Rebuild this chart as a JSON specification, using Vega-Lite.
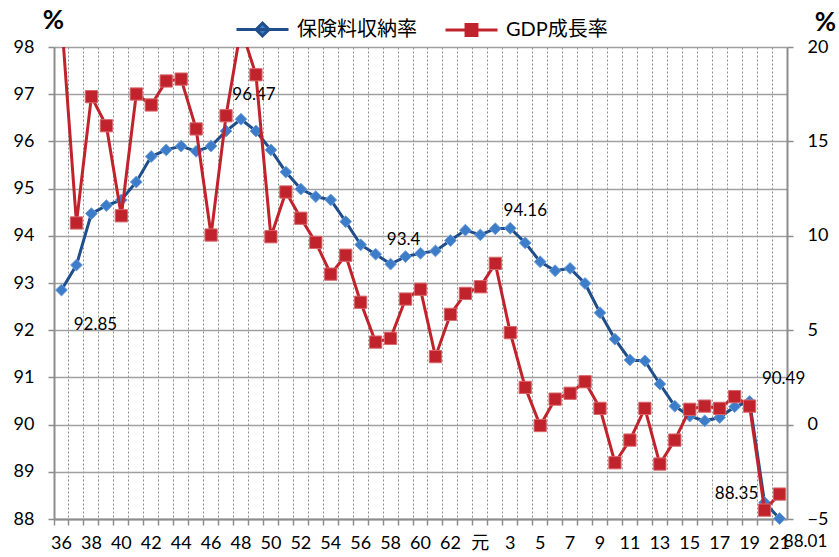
{
  "$schema": "https://vega.github.io/schema/vega-lite/v6.json",
  "width": 733,
  "height": 472,
  "autosize": "none",
  "padding": {"left": 54, "top": 47, "right": 52, "bottom": 38},
  "config": {
    "font": "Lato, 'Noto Sans CJK JP', sans-serif",
    "view": {"stroke": null},
    "axis": {"labelFont": "Lato, 'Noto Sans CJK JP', sans-serif", "labelFontSize": 18, "labelColor": "#000", "titleColor": "#000", "domainColor": "#8c8c8c", "domainWidth": 2, "tickColor": "#8c8c8c", "tickWidth": 1.5, "tickSize": 6}
  },
  "data": {"values": [
    {"year": "36", "rate": 92.85, "gdp": 21.5},
    {"year": "37", "rate": 93.38, "gdp": 10.68},
    {"year": "38", "rate": 94.47, "gdp": 17.37},
    {"year": "39", "rate": 94.64, "gdp": 15.83},
    {"year": "40", "rate": 94.76, "gdp": 11.06},
    {"year": "41", "rate": 95.14, "gdp": 17.51},
    {"year": "42", "rate": 95.68, "gdp": 16.93},
    {"year": "43", "rate": 95.82, "gdp": 18.2},
    {"year": "44", "rate": 95.9, "gdp": 18.3},
    {"year": "45", "rate": 95.79, "gdp": 15.66},
    {"year": "46", "rate": 95.9, "gdp": 10.04},
    {"year": "47", "rate": 96.22, "gdp": 16.36},
    {"year": "48", "rate": 96.47, "gdp": 21.0},
    {"year": "49", "rate": 96.22, "gdp": 18.53},
    {"year": "50", "rate": 95.82, "gdp": 9.95},
    {"year": "51", "rate": 95.35, "gdp": 12.32},
    {"year": "52", "rate": 94.99, "gdp": 10.93},
    {"year": "53", "rate": 94.83, "gdp": 9.65},
    {"year": "54", "rate": 94.76, "gdp": 7.97},
    {"year": "55", "rate": 94.3, "gdp": 8.97},
    {"year": "56", "rate": 93.81, "gdp": 6.48},
    {"year": "57", "rate": 93.61, "gdp": 4.37},
    {"year": "58", "rate": 93.4, "gdp": 4.57},
    {"year": "59", "rate": 93.56, "gdp": 6.65},
    {"year": "60", "rate": 93.63, "gdp": 7.17},
    {"year": "61", "rate": 93.68, "gdp": 3.6},
    {"year": "62", "rate": 93.9, "gdp": 5.84},
    {"year": "63", "rate": 94.12, "gdp": 6.95},
    {"year": "元", "rate": 94.02, "gdp": 7.3},
    {"year": "2", "rate": 94.15, "gdp": 8.54},
    {"year": "3", "rate": 94.16, "gdp": 4.87},
    {"year": "4", "rate": 93.85, "gdp": 1.97},
    {"year": "5", "rate": 93.45, "gdp": -0.05},
    {"year": "6", "rate": 93.26, "gdp": 1.35},
    {"year": "7", "rate": 93.31, "gdp": 1.66},
    {"year": "8", "rate": 92.99, "gdp": 2.27},
    {"year": "9", "rate": 92.37, "gdp": 0.86},
    {"year": "10", "rate": 91.81, "gdp": -2.02},
    {"year": "11", "rate": 91.37, "gdp": -0.82},
    {"year": "12", "rate": 91.35, "gdp": 0.86},
    {"year": "13", "rate": 90.86, "gdp": -2.09},
    {"year": "14", "rate": 90.39, "gdp": -0.82},
    {"year": "15", "rate": 90.18, "gdp": 0.81},
    {"year": "16", "rate": 90.08, "gdp": 0.98},
    {"year": "17", "rate": 90.15, "gdp": 0.86},
    {"year": "18", "rate": 90.38, "gdp": 1.48},
    {"year": "19", "rate": 90.49, "gdp": 0.98},
    {"year": "20", "rate": 88.35, "gdp": -4.53},
    {"year": "21", "rate": 88.01, "gdp": -3.68}
  ]},
  "encoding": {
    "x": {
      "field": "year", "type": "ordinal", "sort": null,
      "scale": {"type": "band", "paddingInner": 0, "paddingOuter": 0},
      "axis": {
        "title": null, "labelAngle": 0, "bandPosition": 0,
        "grid": true, "gridDash": [2, 2], "gridColor": "#8c8c8c", "gridWidth": 1,
        "labelPadding": 9,
        "labelExpr": "indexof(['36','38','40','42','44','46','48','50','52','54','56','58','60','62','元','3','5','7','9','11','13','15','17','19','21'], datum.value) >= 0 ? datum.label : ''"
      }
    }
  },
  "layer": [
    {
      "encoding": {
        "y": {
          "field": "rate", "type": "quantitative",
          "scale": {"domain": [88, 98], "nice": false, "zero": false},
          "axis": {
            "values": [88, 89, 90, 91, 92, 93, 94, 95, 96, 97, 98],
            "grid": true, "gridColor": "#a0a0a0", "gridWidth": 1.5,
            "labelPadding": 14,
            "title": "%", "titleAngle": 0, "titleFontSize": 26, "titleFontWeight": "bold",
            "titleX": -1, "titleY": -27, "titleAlign": "center", "titleBaseline": "middle"
          }
        }
      },
      "layer": [
        {
          "mark": {"type": "line", "strokeWidth": 3},
          "encoding": {
            "color": {
              "datum": "保険料収納率",
              "scale": {"domain": ["保険料収納率", "GDP成長率"], "range": ["#1F4E8A", "#C0232B"]},
              "legend": {
                "orient": "none", "direction": "horizontal", "legendX": 181, "legendY": -45,
                "title": null, "padding": 0, "labelFontSize": 20, "labelColor": "#000",
                "labelFont": "Lato, 'Noto Sans CJK JP', sans-serif",
                "symbolSize": 2704, "symbolStrokeWidth": 3, "columnPadding": 22, "labelOffset": 7,
                "encode": {
                  "symbols": {
                    "update": {
                      "shape": {"signal": "datum.value === '保険料収納率' ? 'M-1,0H1M0,-0.25L0.25,0L0,0.25L-0.25,0Z' : 'M-1,0H1M-0.21,-0.21H0.21V0.21H-0.21Z'"},
                      "fill": {"signal": "datum.value === '保険料収納率' ? '#3D7CC9' : '#C0232B'"}
                    }
                  }
                }
              }
            }
          }
        },
        {
          "mark": {"type": "point", "shape": "diamond", "filled": true, "fill": "#3D7CC9", "stroke": "#6FA0DC", "strokeWidth": 1, "size": 140, "opacity": 1}
        },
        {
          "transform": [{"filter": "datum.year === '36'"}],
          "mark": {"type": "text", "fontSize": 17, "dx": 34, "dy": 35, "color": "#000"},
          "encoding": {"text": {"field": "rate", "type": "quantitative"}}
        },
        {
          "transform": [{"filter": "datum.year === '48' || datum.year === '58'"}],
          "mark": {"type": "text", "fontSize": 17, "dx": 13, "dy": -24, "color": "#000"},
          "encoding": {"text": {"field": "rate", "type": "quantitative"}}
        },
        {
          "transform": [{"filter": "datum.year === '3'"}],
          "mark": {"type": "text", "fontSize": 17, "dx": 15, "dy": -17, "color": "#000"},
          "encoding": {"text": {"field": "rate", "type": "quantitative"}}
        },
        {
          "transform": [{"filter": "datum.year === '19'"}],
          "mark": {"type": "text", "fontSize": 17, "dx": 34, "dy": -22, "color": "#000"},
          "encoding": {"text": {"field": "rate", "type": "quantitative"}}
        },
        {
          "transform": [{"filter": "datum.year === '20'"}],
          "mark": {"type": "text", "fontSize": 17, "dx": -28, "dy": -8, "color": "#000"},
          "encoding": {"text": {"field": "rate", "type": "quantitative"}}
        },
        {
          "transform": [{"filter": "datum.year === '21'"}],
          "mark": {"type": "text", "fontSize": 17, "dx": 26, "dy": 23, "color": "#000"},
          "encoding": {"text": {"field": "rate", "type": "quantitative", "format": ".2f"}}
        }
      ]
    },
    {
      "encoding": {
        "y": {
          "field": "gdp", "type": "quantitative",
          "scale": {"domain": [-5, 20], "nice": false, "zero": false},
          "axis": {
            "orient": "right", "values": [-5, 0, 5, 10, 15, 20],
            "grid": false, "labelPadding": 14,
            "title": "%", "titleAngle": 0, "titleFontSize": 26, "titleFontWeight": "bold",
            "titleX": 38, "titleY": -25, "titleAlign": "center", "titleBaseline": "middle"
          }
        }
      },
      "layer": [
        {
          "mark": {"type": "line", "strokeWidth": 3, "clip": true},
          "encoding": {"color": {"datum": "GDP成長率"}}
        },
        {
          "mark": {"type": "point", "shape": "square", "filled": true, "fill": "#C0232B", "stroke": "#D9676B", "strokeWidth": 1, "size": 150, "opacity": 1, "clip": true}
        }
      ]
    }
  ],
  "resolve": {"scale": {"y": "independent"}}
}
